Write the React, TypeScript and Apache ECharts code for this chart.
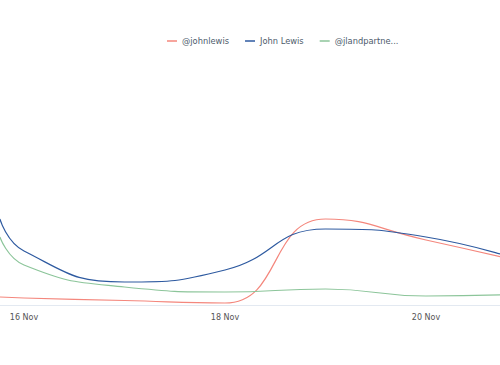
import React, { useEffect, useRef } from "react";
import * as echarts from "echarts";

const days = [15.76, 16, 17, 18, 19, 20, 21];
const tickDays = [16, 18, 20];
const seriesNames = ["@johnlewis", "John Lewis", "@jlandpartners"];
const johnlewisHandle = [8, 7, 4.5, 2, 86, 65, 42];
const johnLewis = [86, 54, 23, 35, 76, 68, 43];
const jlandpartners = [68, 40, 18, 13, 16, 9, 11];
const colors = ["#f4877d", "#2e5aa0", "#8cc59a"];

export default function App() {
  const ref = useRef<HTMLDivElement>(null);
  useEffect(() => {
    if (!ref.current) return;
    const chart = echarts.init(ref.current, null, { renderer: "svg" });
    const mk = (name: string, data: number[], color: string) => ({
      name,
      type: "line",
      data: days.map((d, i) => [d, data[i]]),
      smooth: true,
      showSymbol: false,
      symbol: "none",
      lineStyle: { width: 1.2, color },
      itemStyle: { color },
    });
    chart.setOption({
      animation: false,
      textStyle: { fontFamily: "DejaVu Sans" },
      legend: {
        top: 32,
        left: 162,
        icon: "rect",
        itemWidth: 10,
        itemHeight: 1.5,
        itemGap: 16,
        textStyle: { color: "#4d5b6b", fontSize: 8.3, fontFamily: "DejaVu Sans" },
        formatter: (n: string) => (n.length > 12 ? n.slice(0, 12) + "..." : n),
      },
      grid: { left: 0, right: 0, top: 5, bottom: 60, containLabel: false },
      xAxis: {
        type: "value",
        min: 16 - 24 / 100.5,
        max: 16 + 476 / 100.5,
        axisLine: { lineStyle: { color: "#e3e9f1" } },
        axisTick: { show: false },
        axisLabel: {
          color: "#555",
          fontSize: 8,
          margin: 8,
          customValues: tickDays,
          formatter: (v: number) => Math.round(v) + " Nov",
        },
        splitLine: { show: false },
      },
      yAxis: {
        type: "value",
        min: 0,
        max: 300,
        show: false,
        splitLine: { show: false },
      },
      series: [
        mk(seriesNames[0], johnlewisHandle, colors[0]),
        mk(seriesNames[1], johnLewis, colors[1]),
        mk(seriesNames[2], jlandpartners, colors[2]),
      ],
    });
    return () => chart.dispose();
  }, []);
  return <div ref={ref} style={{ position: "absolute", left: 0, top: 0, width: 500, height: 365 }} />;
}
